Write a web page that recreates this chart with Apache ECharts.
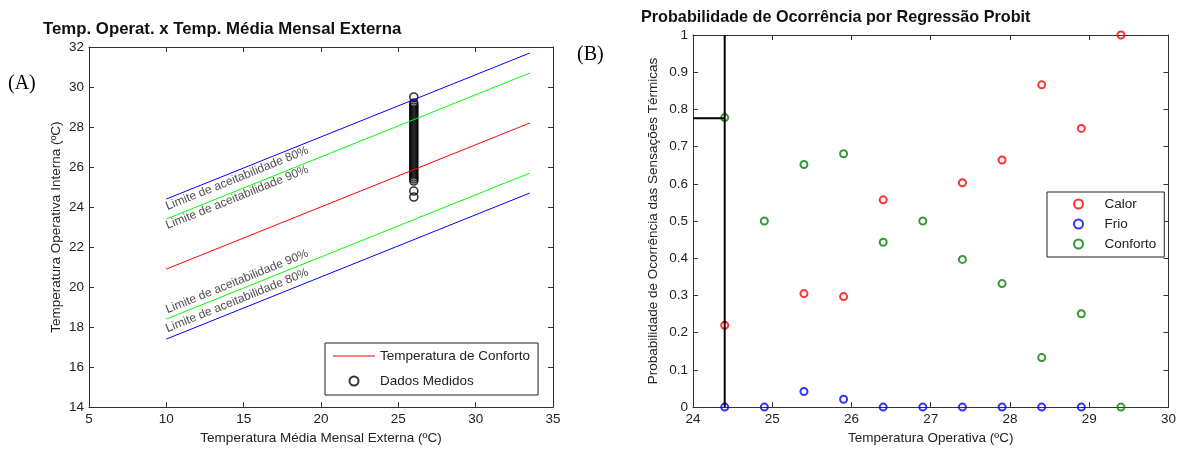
<!DOCTYPE html>
<html>
<head>
<meta charset="utf-8">
<script src="https://cdn.jsdelivr.net/npm/echarts@6/dist/echarts.min.js"></script>
<style>
  html, body { margin: 0; padding: 0; background: #fff; }
  #chart { width: 1179px; height: 450px; }
</style>
</head>
<body>
<div id="chart"></div>
<script>
// (A) temperatura operativa x temperatura media mensal externa
const limitX = [10, 33.5]
const comfortLine = [20.9, 28.2]
const upper80 = [24.4, 31.7]
const upper90 = [23.4, 30.7]
const lower90 = [18.4, 25.7]
const lower80 = [17.4, 24.7]
const measuredX = 26
const measuredY = [24.5, 24.8, 25.3, 25.4, 25.5, 25.6, 25.7, 25.8, 25.9, 26.0, 26.1, 26.2, 26.3, 26.4,
  26.5, 26.6, 26.7, 26.8, 26.9, 27.0, 27.1, 27.2, 27.3, 27.4, 27.5, 27.6, 27.7, 27.8, 27.9, 28.0,
  28.1, 28.2, 28.3, 28.4, 28.5, 28.6, 28.7, 28.8, 28.9, 29.0, 29.1, 29.2, 29.5]
const limitLabels = ['Limite de aceitabilidade 80%', 'Limite de aceitabilidade 90%',
  'Limite de aceitabilidade 90%', 'Limite de aceitabilidade 80%']
const limitLabelY = [24.0, 23.05, 18.85, 17.9]

// (B) probabilidade por regressao probit (pontos escondidos sob outros = null)
const opTemp = [24.4, 24.9, 25.4, 25.9, 26.4, 26.9, 27.4, 27.9, 28.4, 28.9, 29.4]
const calor = [0.22, null, 0.305, 0.297, 0.557, null, 0.603, 0.664, 0.866, 0.749, 1.0]
const frio = [0, 0, 0.042, 0.021, 0, 0, 0, 0, 0, 0, null]
const conforto = [0.778, 0.5, 0.652, 0.681, 0.443, 0.5, 0.397, 0.332, 0.133, 0.251, 0]
const guideX = 24.4
const guideY = 0.776

const font = 'Liberation Sans, Arial, sans-serif'
const txt = '#222'

const pairs = (xs, ys) => xs.map((x, i) => [x, ys[i]]).filter(p => p[1] !== null)

// box axis: main side with labels, opposite side only ticks
const axis = (grid, pos, min, max, interval, name, nameGap) => {
  const main = pos === 'bottom' || pos === 'left'
  return {
    type: 'value', gridIndex: grid, position: pos, min, max, interval,
    name: main ? name : '', nameLocation: 'middle', nameGap,
    nameTextStyle: { color: txt, fontSize: 13.5, fontFamily: font },
    axisLine: { show: true, onZero: false, lineStyle: { color: '#333', width: 1 } },
    axisTick: { show: true, inside: true, length: 5, lineStyle: { color: '#333' } },
    axisLabel: { show: main, color: txt, fontSize: 13.5, fontFamily: font, margin: 5 },
    splitLine: { show: false }
  }
}

const line = (name, ys, color) => ({
  name, type: 'line', xAxisIndex: 0, yAxisIndex: 0, data: pairs(limitX, ys),
  symbol: 'none', lineStyle: { color, width: 1 }, itemStyle: { color }, silent: true
})

const ring = (name, ys, color) => ({
  name, type: 'scatter', xAxisIndex: 2, yAxisIndex: 2, data: pairs(opTemp, ys),
  symbol: 'circle', symbolSize: 7,
  itemStyle: { color: 'rgba(0,0,0,0)', borderColor: color, borderWidth: 2 }
})

const legendText = { color: txt, fontSize: 13.5, fontFamily: font, lineHeight: 16 }

const chart = echarts.init(document.getElementById('chart'))
chart.setOption({
  animation: false,
  title: [
    { text: 'Temp. Operat. x Temp. Média Mensal Externa', left: 38, top: 16,
      textStyle: { fontSize: 16.8, fontWeight: 'bold', color: '#111', fontFamily: font } },
    { text: 'Probabilidade de Ocorrência por Regressão Probit', left: 636, top: 5,
      textStyle: { fontSize: 16.2, fontWeight: 'bold', color: '#111', fontFamily: font } },
    { text: '(A)', left: 3, top: 69,
      textStyle: { fontSize: 20, fontWeight: 'normal', color: '#000', fontFamily: 'Liberation Serif, serif' } },
    { text: '(B)', left: 572, top: 40,
      textStyle: { fontSize: 20, fontWeight: 'normal', color: '#000', fontFamily: 'Liberation Serif, serif' } }
  ],
  grid: [
    { left: 89, right: 626, top: 47, bottom: 38 },
    { left: 693, right: 10, top: 35, bottom: 41 }
  ],
  legend: [
    { data: [{ name: 'Temperatura de Conforto', icon: 'path://M0,0H42V1.2H0Z' }, 'Dados Medidos'],
      orient: 'vertical', left: 325, top: 343,
      padding: [5, 8, 6, 8], itemGap: 9, itemWidth: 42, itemHeight: 9,
      borderColor: '#222', borderWidth: 1, backgroundColor: '#fff', textStyle: legendText },
    { data: ['Calor', 'Frio', 'Conforto'], orient: 'vertical', left: 1047, top: 192,
      padding: [4, 8, 5, 26], itemGap: 4, itemWidth: 42, itemHeight: 9,
      borderColor: '#222', borderWidth: 1, backgroundColor: '#fff', textStyle: legendText }
  ],
  xAxis: [
    axis(0, 'bottom', 5, 35, 5, 'Temperatura Média Mensal Externa (ºC)', 23),
    axis(0, 'top', 5, 35, 5),
    axis(1, 'bottom', 24, 30, 1, 'Temperatura Operativa (ºC)', 23),
    axis(1, 'top', 24, 30, 1)
  ],
  yAxis: [
    axis(0, 'left', 14, 32, 2, 'Temperatura Operativa Interna (ºC)', 26),
    axis(0, 'right', 14, 32, 2),
    axis(1, 'left', 0, 1, 0.1, 'Probabilidade de Ocorrência das Sensações Térmicas', 33),
    axis(1, 'right', 0, 1, 0.1)
  ],
  series: [
    line('upper80', upper80, '#0000ff'),
    line('upper90', upper90, '#00ff00'),
    line('Temperatura de Conforto', comfortLine, '#ff0000'),
    line('lower90', lower90, '#00ff00'),
    line('lower80', lower80, '#0000ff'),
    {
      name: 'Dados Medidos', type: 'scatter', xAxisIndex: 0, yAxisIndex: 0,
      data: measuredY.map(y => [measuredX, y]), symbol: 'circle', symbolSize: 8,
      itemStyle: { color: 'rgba(0,0,0,0)', borderColor: '#000', borderWidth: 1.6 }
    },
    {
      name: 'limitLabels', type: 'scatter', xAxisIndex: 0, yAxisIndex: 0, symbolSize: 0, silent: true,
      data: limitLabelY.map((y, i) => ({ value: [limitX[0], y], label: { formatter: limitLabels[i] } })),
      label: { show: true, position: 'right', distance: 0, rotate: 22, align: 'left', verticalAlign: 'middle',
        color: '#222', fontSize: 12, fontFamily: font }
    },
    {
      name: 'guide', type: 'line', xAxisIndex: 2, yAxisIndex: 2, symbol: 'none', silent: true,
      data: [[24, guideY], [guideX, guideY], [guideX, 0], [guideX, 1]],
      lineStyle: { color: '#000', width: 2 }
    },
    ring('Calor', calor, '#ff0000'),
    ring('Frio', frio, '#0000ff'),
    ring('Conforto', conforto, '#008000')
  ]
})
</script>
</body>
</html>
